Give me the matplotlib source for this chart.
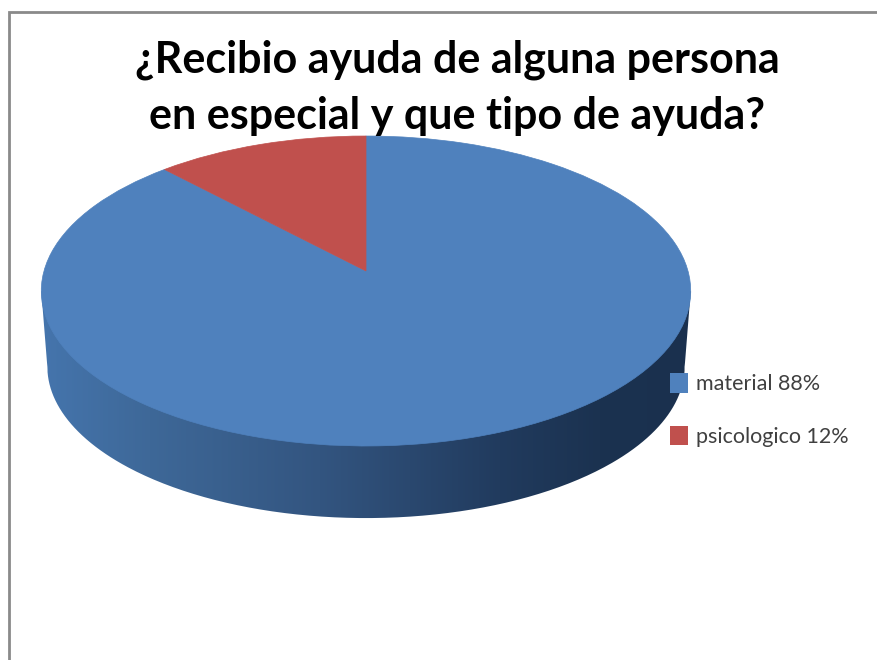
import numpy as np
import matplotlib
matplotlib.use("Agg")
import matplotlib.pyplot as plt
from matplotlib.path import Path
from matplotlib.patches import PathPatch, Patch

categories = ["material", "psicologico"]
values = [88, 12]
colors = ["#4f81bd", "#c0504d"]
title_lines = ["¿Recibio ayuda de alguna persona", "en especial y que tipo de ayuda?"]

W, H = 877, 660
fig = plt.figure(figsize=(W / 100, H / 100), dpi=100, facecolor="white")
ax = fig.add_axes([0, 0, 1, 1])

KP = 0.129


def project(xy, cx, cy, ax_x, ax_y):
    u, v = xy[:, 0], xy[:, 1]
    w = 1 + KP * v
    return np.column_stack([cx + ax_x * u / w, cy - ax_y * v / w])


def project_path(path, cx=366, cy=271, ax_x=322, ax_y=152.4):
    return Path(project(path.vertices, cx, cy, ax_x, ax_y), path.codes)


wedges, _ = ax.pie(values, colors=colors, startangle=90, counterclock=False, radius=1)
paths = [w.get_path().interpolated(1) for w in wedges]
for w in wedges:
    w.set_visible(False)
ax.set_aspect("auto")
ax.set_xlim(0, W)
ax.set_ylim(H, 0)
ax.axis("off")

# side wall: perspective circle, shifted and slightly smaller
t = np.linspace(0, 2 * np.pi, 721)
circle = np.column_stack([np.cos(t), np.sin(t)])
top = project(circle, 366, 271, 322, 152.4)
low = project(circle, 366, 347, 316, 149)
i_l = np.argmin(top[:, 0]); i_r = np.argmax(top[:, 0])
j = low[:, 1] > 362
low_half = low[j]
low_half = low_half[np.argsort(low_half[:, 0])]
wall = np.vstack([[top[i_l]], low_half, [top[i_r]]])
wall_patch = PathPatch(Path(wall, closed=False), fc="none", ec="none", transform=ax.transData)
ax.add_patch(wall_patch)
xs = np.array([40, 150, 320, 500, 600, 695]) / W
rgb = np.array([[0x45, 0x75, 0xad], [0x3e, 0x68, 0x98], [0x33, 0x55, 0x80],
                [0x21, 0x3b, 0x5e], [0x1b, 0x32, 0x50], [0x1a, 0x30, 0x4e]]) / 255
grad = np.stack([np.interp(np.linspace(0, 1, W), xs, rgb[:, c]) for c in range(3)], axis=-1)[None, :, :]
im = ax.imshow(grad, extent=[0, W, H, 0], aspect="auto", zorder=1, interpolation="bilinear")
im.set_clip_path(wall_patch)
ax.set_xlim(0, W)
ax.set_ylim(H, 0)

handles = []
for p, c, name, val in zip(paths, colors, categories, values):
    ax.add_patch(PathPatch(project_path(p), fc=c, ec=c, lw=0.5, zorder=2))
    handles.append(Patch(fc=c, ec="none", label=f"{name} {val}%"))

# frame
ax.plot([8.5, 8.5, W], [H, 11.5, 11.5], color="#8a8a8a", lw=2, zorder=3,
        solid_joinstyle="miter", clip_on=False)

for line, y in zip(title_lines, [72, 129]):
    ax.text(457, y, line, ha="center", va="baseline", fontsize=31, fontweight="bold",
            family="Lato", color="black", zorder=4)

leg = ax.legend(handles=handles, loc="upper left", bbox_to_anchor=(664 / W, 1 - 367 / H),
                frameon=False, prop={"family": "Lato", "size": 15.5}, labelcolor="#404040",
                handlelength=0.8, handleheight=1.0, handletextpad=0.4, labelspacing=1.45,
                borderpad=0.3, borderaxespad=0)
leg.set_zorder(5)

fig.savefig("out.png", dpi=100)
